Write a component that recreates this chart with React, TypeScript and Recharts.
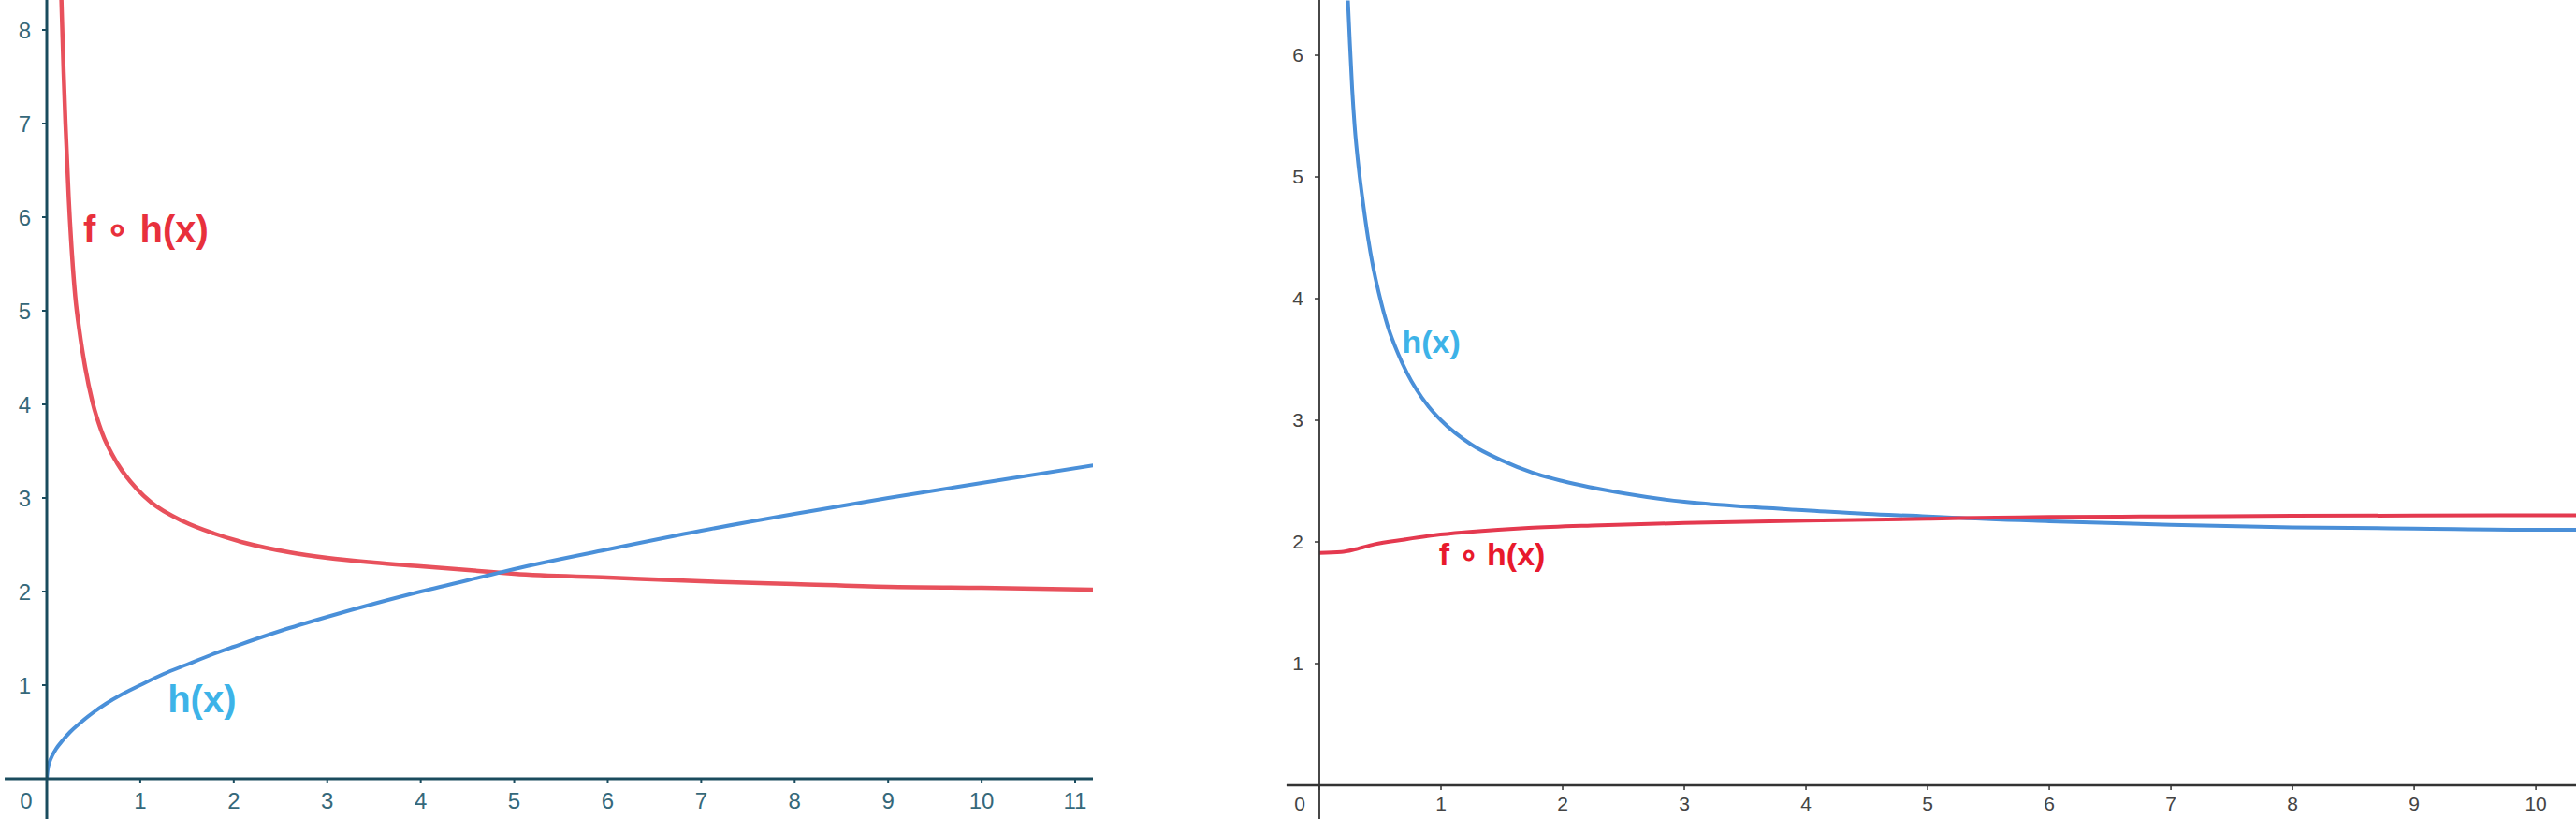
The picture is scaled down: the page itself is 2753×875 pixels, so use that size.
import { LineChart, Line, XAxis, YAxis, ReferenceLine, ReferenceDot } from "recharts";

// left panel: h(x) rising, f∘h(x) falling
const leftXTicks = [0, 1, 2, 3, 4, 5, 6, 7, 8, 9, 10, 11];
const leftYTicks = [1, 2, 3, 4, 5, 6, 7, 8];
const leftHx = [0, 0.01, 0.03, 0.06, 0.1, 0.17, 0.25, 0.35, 0.5, 0.63, 0.8, 1, 1.25, 1.5, 1.75, 2, 2.5, 3, 3.5, 4, 4.75, 5, 6, 7, 8, 9, 10, 11.2];
const leftH = [0, 0.1, 0.18, 0.25, 0.32, 0.41, 0.5, 0.59, 0.71, 0.8, 0.9, 1.0, 1.12, 1.22, 1.32, 1.41, 1.58, 1.73, 1.87, 2.0, 2.18, 2.24, 2.45, 2.65, 2.83, 3.0, 3.16, 3.35];
const leftFhx = [0.14, 0.16, 0.18, 0.2, 0.235, 0.27, 0.305, 0.35, 0.41, 0.49, 0.59, 0.76, 0.96, 1.12, 1.46, 1.79, 2.12, 2.59, 3, 3.5, 4, 4.75, 5, 6, 7, 8, 9, 10, 11.2];
const leftFh = [8.9, 8.2, 7.55, 7.0, 6.2, 5.6, 5.15, 4.78, 4.4, 4.02, 3.7, 3.36, 3.1, 2.95, 2.75, 2.62, 2.52, 2.42, 2.36, 2.31, 2.27, 2.21, 2.19, 2.15, 2.11, 2.08, 2.05, 2.04, 2.02];

// right panel: h(x) falling, f∘h(x) nearly flat
const rightXTicks = [0, 1, 2, 3, 4, 5, 6, 7, 8, 9, 10];
const rightYTicks = [1, 2, 3, 4, 5, 6];
const rightHx = [0.235, 0.25, 0.27, 0.29, 0.326, 0.36, 0.4, 0.44, 0.488, 0.56, 0.646, 0.72, 0.8, 0.9, 1, 1.25, 1.5, 1.75, 2, 2.5, 3, 3.5, 4, 4.5, 5, 5.2, 6, 7, 8, 9, 10, 10.33];
const rightH = [6.45, 6.12, 5.72, 5.42, 5.05, 4.78, 4.5, 4.27, 4.05, 3.78, 3.55, 3.39, 3.25, 3.11, 3.0, 2.8, 2.67, 2.57, 2.5, 2.4, 2.33, 2.29, 2.26, 2.23, 2.21, 2.2, 2.17, 2.14, 2.12, 2.11, 2.1, 2.1];
const rightFhx = [0, 0.18, 0.3, 0.45, 0.7, 0.95, 1.21, 1.47, 1.72, 2.24, 3, 4, 5, 5.2, 6, 7, 8, 9, 10, 10.33];
const rightFh = [1.91, 1.917, 1.94, 1.98, 2.02, 2.055, 2.08, 2.1, 2.115, 2.135, 2.155, 2.175, 2.19, 2.195, 2.205, 2.21, 2.215, 2.217, 2.22, 2.22];

const toPoints = (xs: number[], ys: number[]) => xs.map((x, i) => ({ x, y: ys[i] }));

const FONT = "'Liberation Sans', Arial, sans-serif";
const LABEL_FONT = "'Liberation Sans Narrow', 'Liberation Sans', sans-serif";

const makeXTick = (zeroShift: number, fill: string, fontSize: number) => (props: any) => {
    const { x, y, payload } = props;
    return (
        <text
            x={payload.value === 0 ? x + zeroShift : x}
            y={y}
            dy="0.71em"
            textAnchor="middle"
            fill={fill}
            fontSize={fontSize}
            fontFamily={FONT}
        >
            {payload.value}
        </text>
    );
};

const LeftChart = () => {
    const axisColor = "#1a4c5e";
    const tickColor = "#35687a";
    return (
        <LineChart width={1168} height={875} margin={{ top: 0, right: 0, left: 0, bottom: 0 }}>
            <XAxis
                type="number"
                dataKey="x"
                domain={[0, 11.19]}
                allowDataOverflow
                ticks={leftXTicks}
                height={43}
                tickSize={5}
                tickMargin={10}
                axisLine={{ stroke: axisColor, strokeWidth: 3 }}
                tickLine={{ stroke: axisColor, strokeWidth: 2 }}
                tick={makeXTick(-22, tickColor, 24)}
            />
            <YAxis
                type="number"
                domain={[0, 8.32]}
                allowDataOverflow
                ticks={leftYTicks}
                width={50}
                tickSize={5}
                tickMargin={12}
                axisLine={{ stroke: axisColor, strokeWidth: 3 }}
                tickLine={{ stroke: axisColor, strokeWidth: 2 }}
                tick={{ fill: tickColor, fontSize: 24, fontFamily: FONT }}
            />
            <ReferenceLine segment={[{ x: -0.45, y: 0 }, { x: 0, y: 0 }]} stroke={axisColor} strokeWidth={3} ifOverflow="visible" />
            <ReferenceLine segment={[{ x: 0, y: 0 }, { x: 0, y: -0.5 }]} stroke={axisColor} strokeWidth={3} ifOverflow="visible" />
            <Line
                data={toPoints(leftFhx, leftFh)}
                dataKey="y"
                type="monotone"
                stroke="#e8515c"
                strokeWidth={4.5}
                dot={false}
                activeDot={false}
                isAnimationActive={false}
            />
            <Line
                data={toPoints(leftHx, leftH)}
                dataKey="y"
                type="monotone"
                stroke="#4a90d9"
                strokeWidth={4}
                dot={false}
                activeDot={false}
                isAnimationActive={false}
            />
            <ReferenceDot
                x={1.06}
                y={5.87}
                r={0}
                stroke="none"
                fill="none"
                ifOverflow="visible"
                label={{ value: "f ∘ h(x)", position: "center", fill: "#e8303c", fontSize: 40, fontWeight: 700, fontFamily: LABEL_FONT }}
            />
            <ReferenceDot
                x={1.66}
                y={0.85}
                r={0}
                stroke="none"
                fill="none"
                ifOverflow="visible"
                label={{ value: "h(x)", position: "center", fill: "#3db3e8", fontSize: 40, fontWeight: 700, fontFamily: LABEL_FONT }}
            />
        </LineChart>
    );
};

const RightChart = () => {
    const axisColor = "#333333";
    const tickColor = "#444444";
    return (
        <LineChart width={1403} height={875} margin={{ top: 0, right: 0, left: 0, bottom: 0 }}>
            <XAxis
                type="number"
                dataKey="x"
                domain={[0, 10.33]}
                allowDataOverflow
                ticks={rightXTicks}
                height={36}
                tickSize={5}
                tickMargin={7}
                axisLine={{ stroke: axisColor, strokeWidth: 2.5 }}
                tickLine={{ stroke: axisColor, strokeWidth: 1.5 }}
                tick={makeXTick(-21, tickColor, 21)}
            />
            <YAxis
                type="number"
                domain={[0, 6.454]}
                allowDataOverflow
                ticks={rightYTicks}
                width={60}
                tickSize={5}
                tickMargin={12}
                axisLine={{ stroke: axisColor, strokeWidth: 1.8 }}
                tickLine={{ stroke: axisColor, strokeWidth: 1.5 }}
                tick={{ fill: tickColor, fontSize: 21, fontFamily: FONT }}
            />
            <ReferenceLine segment={[{ x: -0.27, y: 0 }, { x: 0, y: 0 }]} stroke={axisColor} strokeWidth={2.5} ifOverflow="visible" />
            <ReferenceLine segment={[{ x: 0, y: 0 }, { x: 0, y: -0.3 }]} stroke={axisColor} strokeWidth={1.8} ifOverflow="visible" />
            <Line
                data={toPoints(rightHx, rightH)}
                dataKey="y"
                type="monotone"
                stroke="#4a8fd8"
                strokeWidth={4}
                dot={false}
                activeDot={false}
                isAnimationActive={false}
            />
            <Line
                data={toPoints(rightFhx, rightFh)}
                dataKey="y"
                type="monotone"
                stroke="#e4394f"
                strokeWidth={4}
                dot={false}
                activeDot={false}
                isAnimationActive={false}
            />
            <ReferenceDot
                x={0.92}
                y={3.65}
                r={0}
                stroke="none"
                fill="none"
                ifOverflow="visible"
                label={{ value: "h(x)", position: "center", fill: "#3db3e8", fontSize: 34, fontWeight: 700, fontFamily: LABEL_FONT }}
            />
            <ReferenceDot
                x={1.42}
                y={1.9}
                r={0}
                stroke="none"
                fill="none"
                ifOverflow="visible"
                label={{ value: "f ∘ h(x)", position: "center", fill: "#e8192c", fontSize: 34, fontWeight: 700, fontFamily: LABEL_FONT }}
            />
        </LineChart>
    );
};

export default function App() {
    return (
        <div style={{ position: "absolute", left: 0, top: 0, width: 2753, height: 875, background: "#fff" }}>
            <div style={{ position: "absolute", left: 0, top: 0 }}>
                <LeftChart />
            </div>
            <div style={{ position: "absolute", left: 1350, top: 0 }}>
                <RightChart />
            </div>
        </div>
    );
}
